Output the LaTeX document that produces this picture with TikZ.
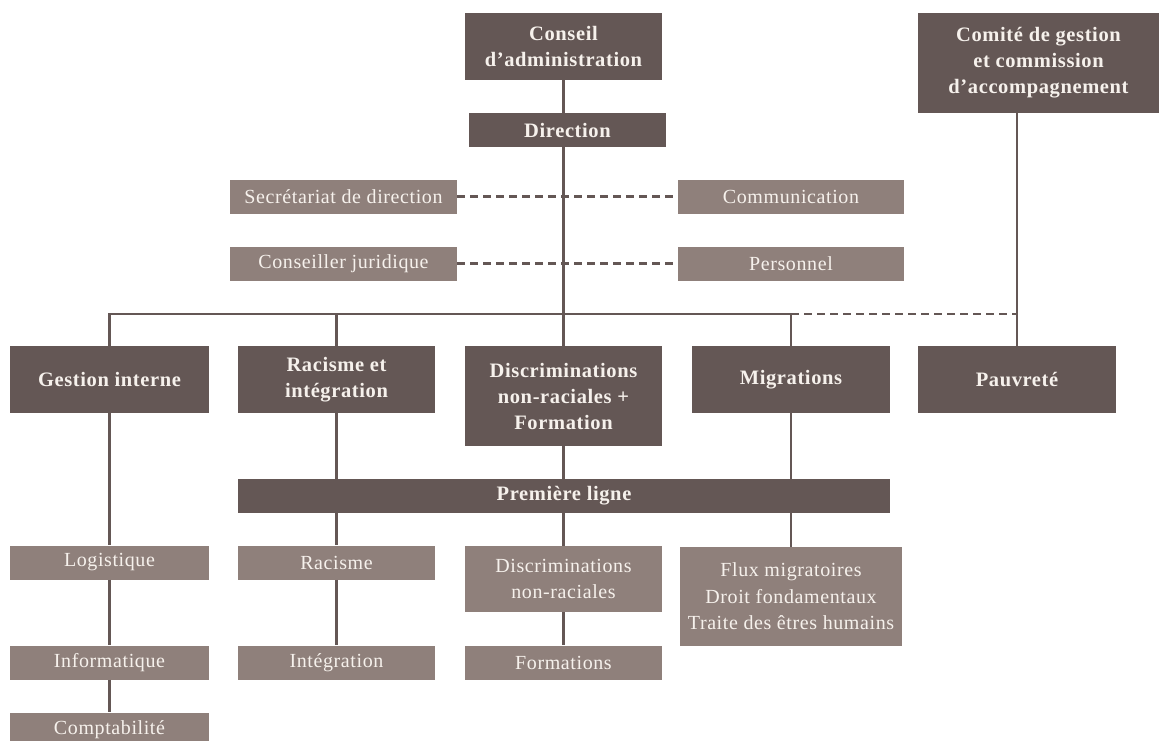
\documentclass[tikz,border=0pt]{standalone}
\usepackage{fontspec}
\setmainfont{Liberation Serif}
\newfontfamily\boxfont[LetterSpace=3]{Liberation Serif}
\definecolor{darkbox}{HTML}{645755}
\definecolor{lightbox}{HTML}{8F807B}
\definecolor{boxtext}{HTML}{F6F1EC}
\tikzset{
  darknode/.style={fill=darkbox, text=boxtext, inner sep=0pt, align=center,
    font=\boxfont\bfseries\fontsize{20.5}{26}\selectfont, minimum height=34pt},
  lightnode/.style={fill=lightbox, text=boxtext, inner sep=0pt, align=center,
    font=\boxfont\fontsize{20}{26.5}\selectfont, minimum height=34pt},
  link/.style={draw=darkbox, line width=2.2pt},
  dashlink/.style={draw=darkbox, line width=2.2pt, dash pattern=on 8pt off 5pt}
}
\begin{document}
\begin{tikzpicture}[x=1pt,y=-1pt]
\useasboundingbox[fill=white] (0,0) rectangle (1163,740);
% top level
\node[darknode, minimum width=197pt, minimum height=67pt] (conseil) at (563.5,46.5) {Conseil\\d’administration};
\node[darknode, minimum width=197pt] (direction) at (567.5,130) {Direction};
\node[darknode, minimum width=241pt, minimum height=100pt] (comite) at (1038.5,63) {Comité de gestion\\et commission\\d’accompagnement};
% staff
\node[lightnode, minimum width=227pt] (secretariat) at (343.5,196.5) {Secrétariat de direction};
\node[lightnode, minimum width=226pt] (communication) at (791,196.5) {Communication};
\node[lightnode, minimum width=227pt] (conseiller) at (343.5,263.5) {Conseiller juridique};
\node[lightnode, minimum width=226pt] (personnel) at (791,263.5) {Personnel};
% departments
\node[darknode, minimum width=199pt, minimum height=67pt] (gestion) at (109.5,379.5) {Gestion interne};
\node[darknode, minimum width=197pt, minimum height=67pt] (racint) at (336.5,379.5) {Racisme et\\intégration};
\node[darknode, minimum width=197pt, minimum height=100pt] (discr) at (563.5,396) {Discriminations\\non-raciales +\\Formation};
\node[darknode, minimum width=198pt, minimum height=67pt] (migr) at (791,379.5) {Migrations};
\node[darknode, minimum width=198pt, minimum height=67pt] (pauv) at (1017,379.5) {Pauvreté};
% premiere ligne
\node[darknode, minimum width=652pt] (premiere) at (564,496) {Première ligne};
% services
\node[lightnode, minimum width=199pt] (logistique) at (109.5,562.5) {Logistique};
\node[lightnode, minimum width=199pt] (informatique) at (109.5,662.5) {Informatique};
\node[lightnode, minimum width=199pt] (comptabilite) at (109.5,729.5) {Comptabilité};
\node[lightnode, minimum width=197pt] (racisme) at (336.5,562.5) {Racisme};
\node[lightnode, minimum width=197pt] (integration) at (336.5,662.5) {Intégration};
\node[lightnode, minimum width=197pt, minimum height=66pt] (discnr) at (563.5,579) {Discriminations\\non-raciales};
\node[lightnode, minimum width=197pt] (formations) at (563.5,662.5) {Formations};
\node[lightnode, minimum width=222pt, minimum height=99pt] (flux) at (791,596.5) {Flux migratoires\\Droit fondamentaux\\Traite des êtres humains};
\coordinate (bus) at (0,314);
% connectors
\draw[link] (conseil.south) -- (conseil.south |- direction.north);
\draw[link] (conseil.south |- direction.south) -- (discr.north);
\draw[dashlink] (secretariat.east) -- (communication.west);
\draw[dashlink] (conseiller.east) -- (personnel.west);
\draw[link] (gestion.north) |- (migr.north |- bus) -- (migr.north);
\draw[link] (racint.north |- bus) -- (racint.north);
\draw[dashlink] (migr.north |- bus) -- (pauv.north |- bus);
\draw[link] (pauv.north |- comite.south) -- (pauv.north);
\draw[link] (gestion.south) -- (logistique.north);
\draw[link] (logistique.south) -- (informatique.north);
\draw[link] (informatique.south) -- (comptabilite.north);
\draw[link] (racint.south) -- (racint.south |- premiere.north);
\draw[link] (racint.south |- premiere.south) -- (racisme.north);
\draw[link] (racisme.south) -- (integration.north);
\draw[link] (discr.south) -- (discr.south |- premiere.north);
\draw[link] (discr.south |- premiere.south) -- (discnr.north);
\draw[link] (discnr.south) -- (formations.north);
\draw[link] (migr.south) -- (migr.south |- premiere.north);
\draw[link] (migr.south |- premiere.south) -- (migr.south |- flux.north);
\end{tikzpicture}
\end{document}
